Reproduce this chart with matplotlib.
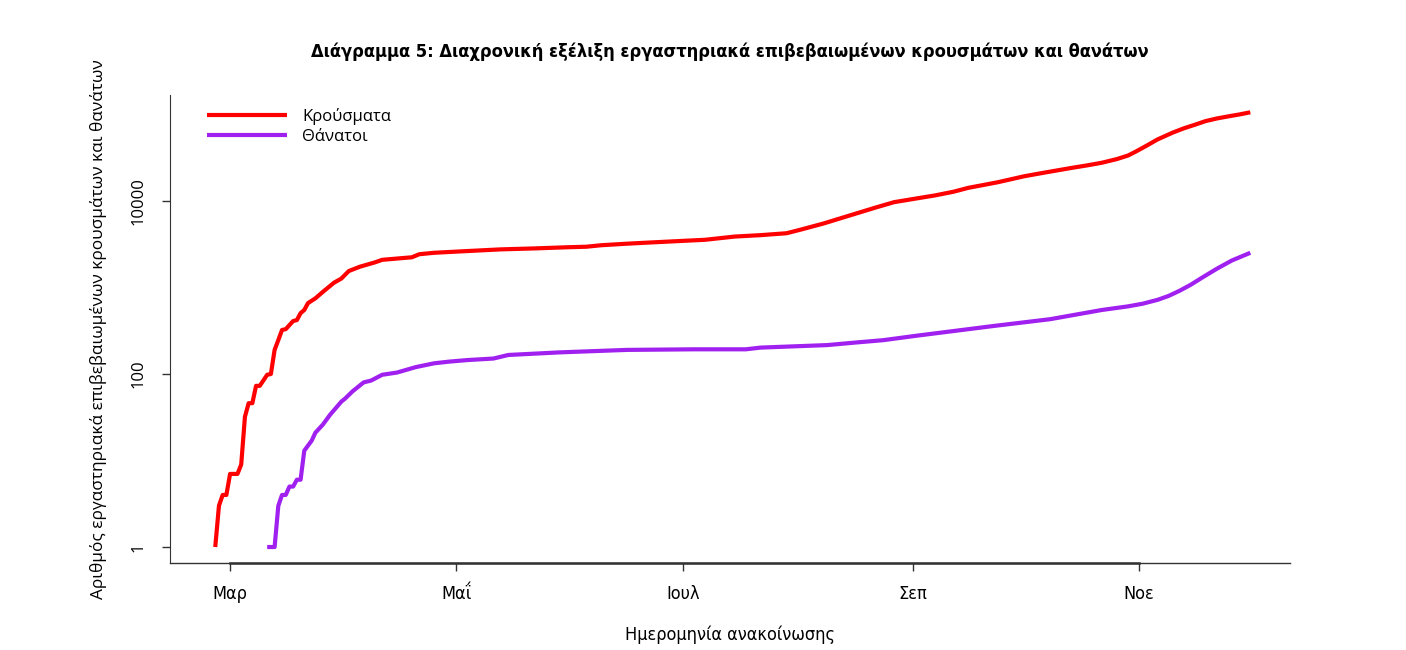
import numpy as np
import matplotlib
matplotlib.use("Agg")
import matplotlib.pyplot as plt
import matplotlib.dates as mdates
from matplotlib.font_manager import fontManager

# cumulative confirmed cases
case_dates = ["2020-02-26", "2020-02-27", "2020-02-28", "2020-02-29", "2020-03-01",
              "2020-03-03", "2020-03-04", "2020-03-05", "2020-03-06", "2020-03-07",
              "2020-03-08", "2020-03-09", "2020-03-11", "2020-03-12", "2020-03-13",
              "2020-03-14", "2020-03-15", "2020-03-16", "2020-03-18", "2020-03-19",
              "2020-03-20", "2020-03-21", "2020-03-22", "2020-03-24", "2020-03-26",
              "2020-03-29", "2020-03-31", "2020-04-02", "2020-04-05", "2020-04-09",
              "2020-04-11", "2020-04-16", "2020-04-19", "2020-04-21", "2020-04-25",
              "2020-05-04", "2020-05-13", "2020-05-22", "2020-05-31", "2020-06-05",
              "2020-06-09", "2020-06-16", "2020-06-22", "2020-07-01", "2020-07-07",
              "2020-07-15", "2020-07-22", "2020-07-29", "2020-08-02", "2020-08-08",
              "2020-08-15", "2020-08-22", "2020-08-27", "2020-09-02", "2020-09-07",
              "2020-09-12", "2020-09-16", "2020-09-20", "2020-09-24", "2020-10-01",
              "2020-10-06", "2020-10-10", "2020-10-14", "2020-10-18", "2020-10-22",
              "2020-10-26", "2020-10-29", "2020-10-31", "2020-11-03", "2020-11-06",
              "2020-11-10", "2020-11-13", "2020-11-16", "2020-11-19", "2020-11-22",
              "2020-11-25", "2020-11-28", "2020-12-01"]
cases = [1, 3, 4, 4, 7,
         7, 9, 32, 46, 46,
         73, 73, 98, 100, 190,
         247, 323, 330, 410, 420,
         505, 550, 660, 750, 890,
         1135, 1270, 1550, 1740, 1950,
         2090, 2180, 2235, 2425, 2520,
         2640, 2760, 2830, 2920, 2960,
         3080, 3210, 3310, 3460, 3560,
         3880, 4030, 4240, 4690, 5500,
         6800, 8400, 9700, 10700, 11600,
         12800, 14200, 15300, 16500, 19300,
         21100, 22600, 24200, 25800, 27700,
         30500, 33500, 37000, 43500, 51500,
         61500, 69000, 76000, 84000, 90000,
         95000, 100000, 106000]

# cumulative deaths
death_dates = ["2020-03-11", "2020-03-13", "2020-03-14", "2020-03-15", "2020-03-16",
               "2020-03-17", "2020-03-18", "2020-03-19", "2020-03-20", "2020-03-21",
               "2020-03-23", "2020-03-24", "2020-03-26", "2020-03-28", "2020-03-31",
               "2020-04-01", "2020-04-03", "2020-04-06", "2020-04-08", "2020-04-11",
               "2020-04-15", "2020-04-20", "2020-04-25", "2020-04-29", "2020-05-04",
               "2020-05-11", "2020-05-15", "2020-05-29", "2020-06-16", "2020-07-04",
               "2020-07-18", "2020-07-22", "2020-08-09", "2020-08-17", "2020-08-24",
               "2020-09-02", "2020-09-11", "2020-09-23", "2020-10-08", "2020-10-22",
               "2020-10-29", "2020-11-02", "2020-11-06", "2020-11-09", "2020-11-12",
               "2020-11-15", "2020-11-18", "2020-11-22", "2020-11-26", "2020-12-01"]
deaths = [1, 1, 3, 4, 4,
          5, 5, 6, 6, 13,
          17, 21, 26, 34, 48,
          52, 63, 80, 84, 98,
          104, 120, 133, 139, 145,
          151, 166, 178, 190, 193,
          193, 202, 216, 232, 246,
          277, 310, 360, 430, 550,
          605, 650, 720, 800, 920,
          1080, 1300, 1650, 2050, 2520]

tick_dates = ["2020-03-01", "2020-05-01", "2020-07-01", "2020-09-01", "2020-11-01"]
tick_labels = ["Μαρ", "Μαΐ", "Ιουλ", "Σεπ", "Νοε"]
y_ticks = [1, 100, 10000]

# pick a narrow face for the title / x axis if one is installed
narrow_kw = dict(family=["DejaVu Sans"])
title_size = 11.5
names = {f.name for f in fontManager.ttflist}
if "Liberation Sans Narrow" in names:
    narrow_kw = dict(family=["Liberation Sans Narrow", "DejaVu Sans"])
    title_size = 15
elif any(f.name == "DejaVu Sans" and "condensed" in str(f.stretch) for f in fontManager.ttflist):
    narrow_kw = dict(family=["DejaVu Sans"], stretch="condensed")
    title_size = 13.1

plt.rcParams['font.family'] = ['Open Sans', 'DejaVu Sans']

fig = plt.figure(figsize=(14.06, 6.5), dpi=100)
ax = fig.add_axes([0.1209, 0.1338, 0.7966, 0.72])

cd = mdates.date2num(np.array(case_dates, dtype="datetime64[D]"))
dd = mdates.date2num(np.array(death_dates, dtype="datetime64[D]"))
ax.plot(cd, cases, color="#FF0000", lw=3.0, solid_capstyle="butt", label="Κρούσματα")
ax.plot(dd, deaths, color="#A020F0", lw=3.0, solid_capstyle="butt", label="Θάνατοι")

ax.set_yscale("log")
ax.set_ylim(10 ** -0.185, 10 ** 5.225)
x0 = mdates.date2num(np.datetime64("2020-03-01"))
ax.set_xlim(x0 - 16.2, x0 + 285.7)

ax.set_yticks(y_ticks)
ax.set_yticklabels([str(v) for v in y_ticks], rotation=90, va="center", fontsize=12)
ax.yaxis.set_minor_locator(matplotlib.ticker.NullLocator())
tk = mdates.date2num(np.array(tick_dates, dtype="datetime64[D]"))
ax.set_xticks(tk)
ax.set_xticklabels(tick_labels, fontsize=13, **narrow_kw)
ax.tick_params(axis="both", direction="out", length=6, width=1, color="#333333")
ax.tick_params(axis="y", pad=11)
ax.tick_params(axis="x", pad=10)

for s in ["top", "right"]:
    ax.spines[s].set_visible(False)
ax.spines["left"].set_color("#333333")
ax.spines["bottom"].set_color("#333333")
ax.plot([0, 1], [0, 0], transform=ax.transAxes, color="#333333", lw=1.0, clip_on=False)
ax.spines["bottom"].set_bounds(tk[0], tk[-1])
ax.spines["bottom"].set_linewidth(1.8)

ax.set_xlabel("Ημερομηνία ανακοίνωσης", fontsize=13, labelpad=16, **narrow_kw)
ax.set_ylabel("Αριθμός εργαστηριακά επιβεβαιωμένων κρουσμάτων και θανάτων", fontsize=12.4, labelpad=17)
fig.text(0.519, 0.92, "Διάγραμμα 5: Διαχρονική εξέλιξη εργαστηριακά επιβεβαιωμένων κρουσμάτων και θανάτων",
         fontweight="bold", fontsize=title_size, ha="center", va="center", **narrow_kw)

ax.legend(loc="upper left", bbox_to_anchor=(0.02, 1.005), frameon=False, fontsize=12,
          handlelength=4.8, handletextpad=0.9, labelspacing=0.25)

fig.savefig("out.png", dpi=100)
